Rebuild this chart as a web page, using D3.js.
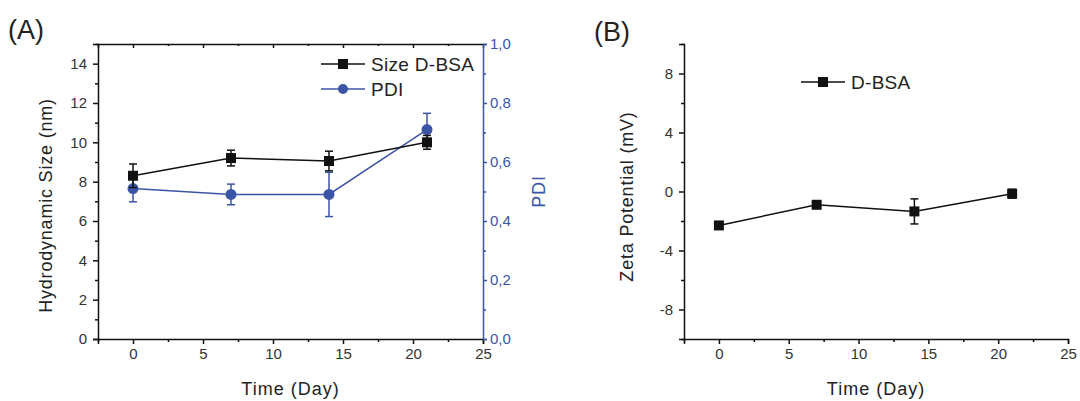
<!DOCTYPE html>
<html>
<head>
<meta charset="utf-8">
<script src="https://cdn.jsdelivr.net/npm/d3@7"></script>
<style>
  body { margin: 0; background: #fff; }
  svg { display: block; font-family: "Liberation Sans", Arial, sans-serif; }
</style>
</head>
<body>
<svg width="1080" height="401"></svg>
<script>
'use strict';

// data
const days = [0, 7, 14, 21];
const sizeVals = [8.3, 9.2, 9.05, 10.0];
const sizeErr = [0.6, 0.4, 0.5, 0.35];
const pdiVals = [0.51, 0.49, 0.49, 0.71];
const pdiErr = [0.045, 0.035, 0.075, 0.055];
const zetaVals = [-2.3, -0.9, -1.35, -0.15];
const zetaErr = [0.1, 0.2, 0.85, 0.3];

const xMajor = [0, 5, 10, 15, 20, 25];
const xMinor = [-2.5, 2.5, 7.5, 12.5, 17.5, 22.5];
const sizeMajor = [0, 2, 4, 6, 8, 10, 12, 14];
const sizeMinor = [1, 3, 5, 7, 9, 11, 13, 15];
const pdiMajor = [0, 0.2, 0.4, 0.6, 0.8, 1.0];
const pdiMinor = [0.1, 0.3, 0.5, 0.7, 0.9];
const zetaMajor = [-8, -4, 0, 4, 8];
const zetaMinor = [-10, -6, -2, 2, 6, 10];

const blue = '#3b55a6';
const ink = '#111';
const tickInk = '#333';
const labelInk = '#222';

const svg = d3.select('svg');

const optsA = { left: 98, right: 483, top: 44, bottom: 339 };
const optsB = { left: 684, right: 1068, top: 44, bottom: 339 };

function styleAxis(g, color, width) {
	g.select('.domain').attr('stroke', color).attr('stroke-width', width);
	g.selectAll('.tick line').attr('stroke', color).attr('stroke-width', width);
	g.selectAll('.tick text').attr('fill', color === ink ? tickInk : color)
		.attr('font-size', 15);
}

function minorAxis(axisFn, scale, vals, size) {
	return axisFn(scale).tickValues(vals).tickSize(size).tickFormat('');
}

function errorBars(g, xs, ys, vals, errs, color) {
	const cap = 4;
	vals.forEach((v, i) => {
		const x = xs(days[i]);
		g.append('line')
			.attr('x1', x).attr('x2', x)
			.attr('y1', ys(v - errs[i])).attr('y2', ys(v + errs[i]))
			.attr('stroke', color).attr('stroke-width', 1.5);
		[v - errs[i], v + errs[i]].forEach(e => {
			g.append('line')
				.attr('x1', x - cap).attr('x2', x + cap)
				.attr('y1', ys(e)).attr('y2', ys(e))
				.attr('stroke', color).attr('stroke-width', 1.5);
		});
	});
}

function series(g, xs, ys, vals, color, shape) {
	const line = d3.line().x((d, i) => xs(days[i])).y(d => ys(d));
	g.append('path')
		.datum(vals)
		.attr('d', line)
		.attr('fill', 'none')
		.attr('stroke', color)
		.attr('stroke-width', 1.5);
	vals.forEach((v, i) => {
		if (shape === 'square') {
			g.append('rect')
				.attr('x', xs(days[i]) - 5).attr('y', ys(v) - 5)
				.attr('width', 10).attr('height', 10)
				.attr('fill', color);
		} else {
			g.append('circle')
				.attr('cx', xs(days[i])).attr('cy', ys(v))
				.attr('r', 5.5)
				.attr('fill', color);
		}
	});
}

function legendItem(x, y, label, color, shape) {
	svg.append('line')
		.attr('x1', x).attr('x2', x + 44)
		.attr('y1', y).attr('y2', y)
		.attr('stroke', color).attr('stroke-width', 1.5);
	if (shape === 'square') {
		svg.append('rect')
			.attr('x', x + 22 - 5).attr('y', y - 5)
			.attr('width', 10).attr('height', 10)
			.attr('fill', color);
	} else {
		svg.append('circle')
			.attr('cx', x + 22).attr('cy', y)
			.attr('r', 5)
			.attr('fill', color);
	}
	svg.append('text')
		.attr('x', x + 50).attr('y', y)
		.attr('dy', '0.36em')
		.attr('font-size', 19)
		.attr('fill', labelInk)
		.attr('letter-spacing', 0.3)
		.text(label);
}

// ---------- panel A ----------
function drawPanelA() {
	const x = d3.scaleLinear().domain([-2.5, 25]).range([optsA.left, optsA.right]);
	const y = d3.scaleLinear().domain([0, 15]).range([optsA.bottom, optsA.top]);
	const y2 = d3.scaleLinear().domain([0, 1]).range([optsA.bottom, optsA.top]);

	// top frame with inward ticks
	const top = svg.append('g').attr('transform', `translate(0,${optsA.top})`);
	top.call(d3.axisTop(x).tickValues(xMajor.slice(0, 5)).tickSize(-4).tickFormat(''));
	top.call(g => styleAxis(g, ink, 1.5));
	svg.append('g').attr('transform', `translate(0,${optsA.top})`)
		.call(minorAxis(d3.axisTop, x, xMinor.slice(1), -2))
		.call(g => { styleAxis(g, ink, 1.5); g.select('.domain').remove(); });

	// bottom axis
	svg.append('g').attr('transform', `translate(0,${optsA.bottom})`)
		.call(d3.axisBottom(x).tickValues(xMajor).tickSize(5).tickPadding(4).tickFormat(d3.format('d')))
		.call(g => styleAxis(g, ink, 1.5));
	svg.append('g').attr('transform', `translate(0,${optsA.bottom})`)
		.call(minorAxis(d3.axisBottom, x, xMinor, 3))
		.call(g => { styleAxis(g, ink, 1.5); g.select('.domain').remove(); });

	// left axis
	svg.append('g').attr('transform', `translate(${optsA.left},0)`)
		.call(d3.axisLeft(y).tickValues(sizeMajor).tickSize(5).tickPadding(6).tickFormat(d3.format('d')))
		.call(g => styleAxis(g, ink, 1.5));
	svg.append('g').attr('transform', `translate(${optsA.left},0)`)
		.call(minorAxis(d3.axisLeft, y, sizeMinor, 3))
		.call(g => { styleAxis(g, ink, 1.5); g.select('.domain').remove(); });

	// right axis (PDI)
	svg.append('g').attr('transform', `translate(${optsA.right},0)`)
		.call(d3.axisRight(y2).tickValues(pdiMajor).tickSize(4).tickPadding(3)
			.tickFormat(d => d3.format('.1f')(d).replace('.', ',')))
		.call(g => styleAxis(g, blue, 1.5));
	svg.append('g').attr('transform', `translate(${optsA.right},0)`)
		.call(minorAxis(d3.axisRight, y2, pdiMinor, 3))
		.call(g => { styleAxis(g, blue, 1.5); g.select('.domain').remove(); });

	const plot = svg.append('g');
	series(plot, x, y2, pdiVals, blue, 'circle');
	errorBars(plot, x, y2, pdiVals, pdiErr, blue);
	series(plot, x, y, sizeVals, ink, 'square');
	errorBars(plot, x, y, sizeVals, sizeErr, ink);

	legendItem(321, 64, 'Size D-BSA', ink, 'square');
	legendItem(321, 89, 'PDI', blue, 'circle');

	svg.append('text')
		.attr('transform', `translate(52,${(optsA.top + optsA.bottom) / 2 + 14}) rotate(-90)`)
		.attr('text-anchor', 'middle')
		.attr('font-size', 18).attr('fill', labelInk)
		.attr('letter-spacing', 0.8)
		.text('Hydrodynamic Size (nm)');
	svg.append('text')
		.attr('transform', `translate(545,${(optsA.top + optsA.bottom) / 2}) rotate(-90)`)
		.attr('text-anchor', 'middle')
		.attr('font-size', 18).attr('fill', blue)
		.attr('letter-spacing', 0.8)
		.text('PDI');
	svg.append('text')
		.attr('x', (optsA.left + optsA.right) / 2).attr('y', 395)
		.attr('text-anchor', 'middle')
		.attr('font-size', 18).attr('fill', labelInk)
		.attr('letter-spacing', 1)
		.text('Time (Day)');
	svg.append('text')
		.attr('x', 8).attr('y', 39)
		.attr('font-size', 27).attr('fill', labelInk)
		.text('(A)');
}

// ---------- panel B ----------
function drawPanelB() {
	const x = d3.scaleLinear().domain([-2.5, 25]).range([optsB.left, optsB.right]);
	const y = d3.scaleLinear().domain([-10, 10]).range([optsB.bottom, optsB.top]);

	svg.append('g').attr('transform', `translate(0,${optsB.bottom})`)
		.call(d3.axisBottom(x).tickValues(xMajor).tickSize(5).tickPadding(4).tickFormat(d3.format('d')))
		.call(g => styleAxis(g, ink, 1.5));
	svg.append('g').attr('transform', `translate(0,${optsB.bottom})`)
		.call(minorAxis(d3.axisBottom, x, xMinor, 3))
		.call(g => { styleAxis(g, ink, 1.5); g.select('.domain').remove(); });

	svg.append('g').attr('transform', `translate(${optsB.left},0)`)
		.call(d3.axisLeft(y).tickValues(zetaMajor).tickSize(5).tickPadding(6).tickFormat(d => String(d)))
		.call(g => styleAxis(g, ink, 1.5));
	svg.append('g').attr('transform', `translate(${optsB.left},0)`)
		.call(minorAxis(d3.axisLeft, y, zetaMinor, 3))
		.call(g => { styleAxis(g, ink, 1.5); g.select('.domain').remove(); });

	const plot = svg.append('g');
	series(plot, x, y, zetaVals, ink, 'square');
	errorBars(plot, x, y, zetaVals, zetaErr, ink);

	legendItem(801, 82, 'D-BSA', ink, 'square');

	svg.append('text')
		.attr('transform', `translate(633,${(optsB.top + optsB.bottom) / 2 + 5}) rotate(-90)`)
		.attr('text-anchor', 'middle')
		.attr('font-size', 18).attr('fill', labelInk)
		.attr('letter-spacing', 0.8)
		.text('Zeta Potential (mV)');
	svg.append('text')
		.attr('x', (optsB.left + optsB.right) / 2).attr('y', 395)
		.attr('text-anchor', 'middle')
		.attr('font-size', 18).attr('fill', labelInk)
		.attr('letter-spacing', 1)
		.text('Time (Day)');
	svg.append('text')
		.attr('x', 594).attr('y', 41)
		.attr('font-size', 27).attr('fill', labelInk)
		.text('(B)');
}

drawPanelA();
drawPanelB();
</script>
</body>
</html>
